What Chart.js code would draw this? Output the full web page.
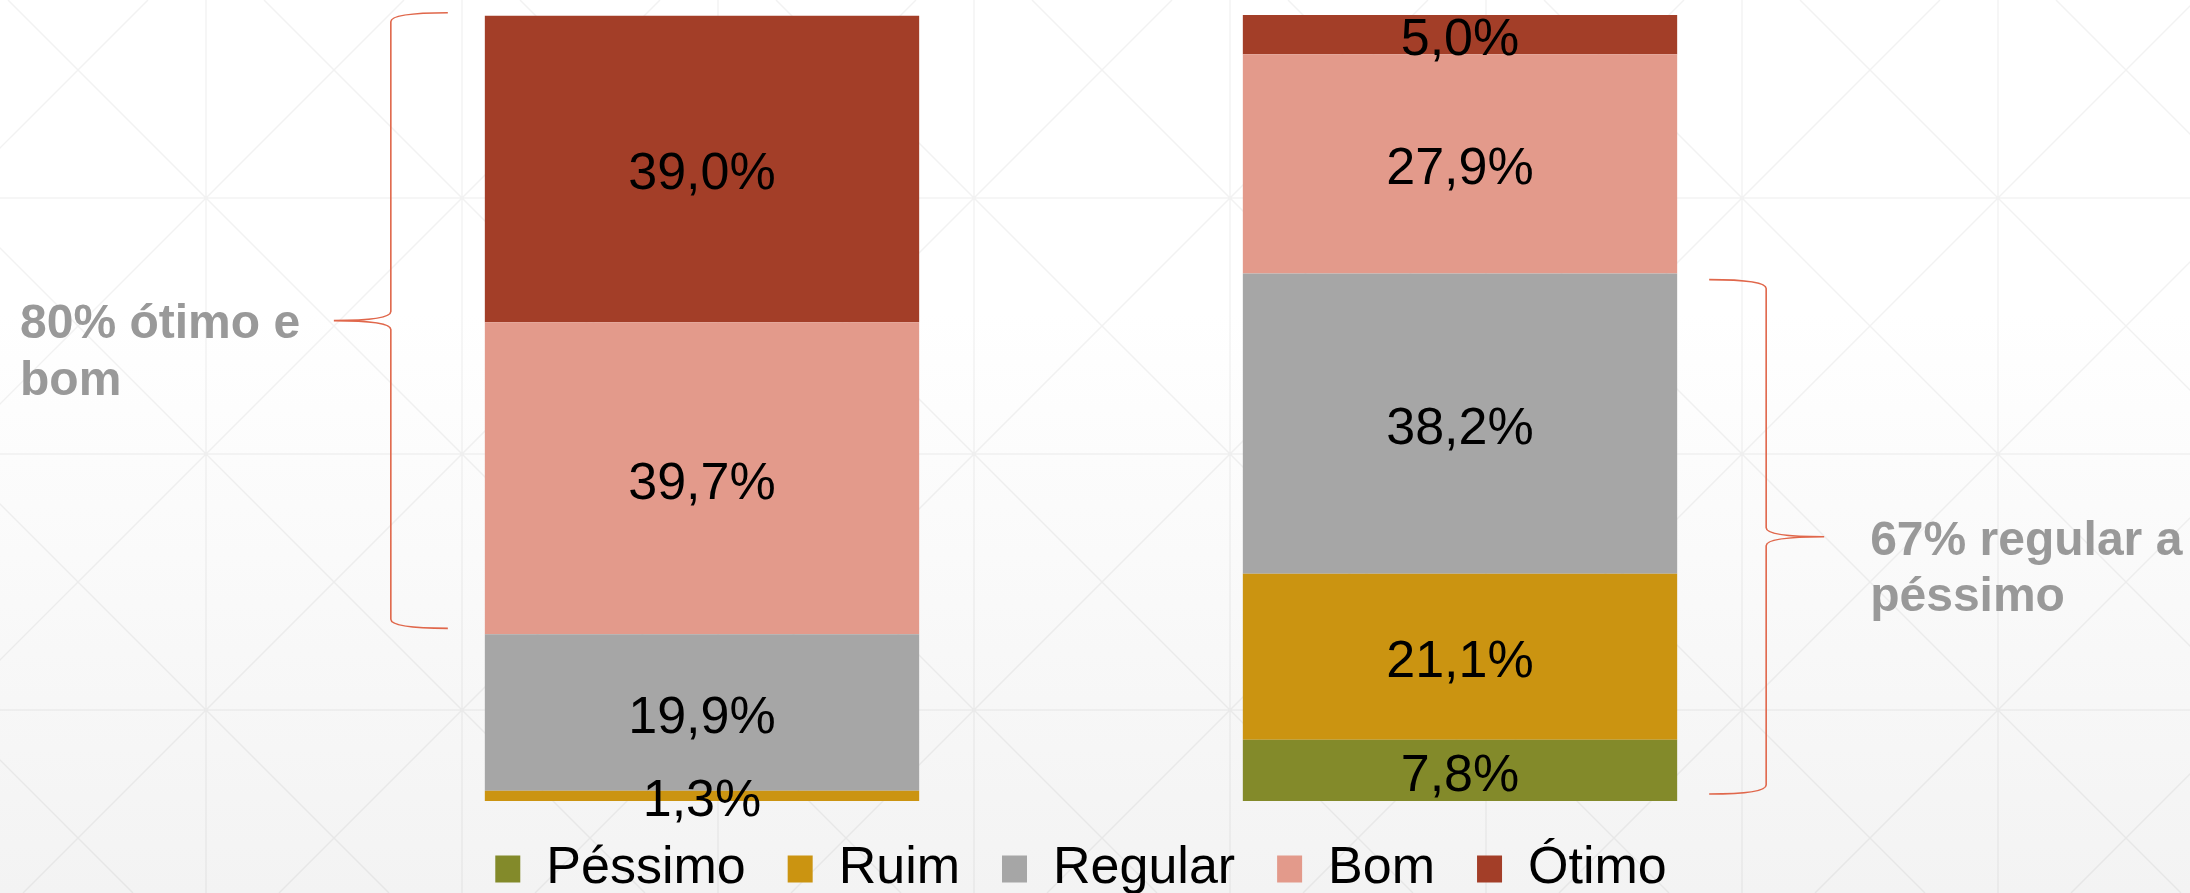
<!DOCTYPE html>
<html>
<head>
<meta charset="utf-8">
<script src="https://cdn.jsdelivr.net/npm/chart.js@4"></script>
<style>
    html, body { margin: 0; padding: 0; background: #fff; }
    #wrap { width: 2190px; height: 893px; position: relative; }
</style>
</head>
<body>
<div id="wrap"><canvas id="chart"></canvas></div>
<script>
// Chart data
const categories = ['Antes', 'Depois'];
const seriesNames = ['Péssimo', 'Ruim', 'Regular', 'Bom', 'Ótimo'];
const pessimo = [0, 7.8];
const ruim = [1.3, 21.1];
const regular = [19.9, 38.2];
const bom = [39.7, 27.9];
const otimo = [39.0, 5.0];
const seriesColors = ['#838A2A', '#CB9411', '#A6A6A6', '#E39A8B', '#A33E28'];

const noteLeft = ['80% ótimo e', 'bom'];
const noteRight = ['67% regular a', 'péssimo'];

const FONT = '"Liberation Sans", Arial, sans-serif';

function fmt(v) {
    return v.toFixed(1).replace('.', ',') + '%';
}

// Light background with the diamond lattice pattern
const backgroundPattern = {
    id: 'backgroundPattern',
    beforeDraw(chart) {
        const ctx = chart.ctx;
        const w = chart.width, h = chart.height;
        ctx.save();
        const grad = ctx.createLinearGradient(0, 0, 0, h);
        grad.addColorStop(0, '#ffffff');
        grad.addColorStop(0.35, '#ffffff');
        grad.addColorStop(1, '#f3f3f3');
        ctx.fillStyle = grad;
        ctx.fillRect(0, 0, w, h);

        ctx.strokeStyle = 'rgba(0,0,0,0.05)';
        ctx.lineWidth = 1.5;
        const step = 256, ox = 206, oy = 198;
        ctx.beginPath();
        for (let x = ox - step; x < w + step; x += step) {
            ctx.moveTo(x, 0); ctx.lineTo(x, h);
        }
        for (let y = oy - step; y < h + step; y += step) {
            ctx.moveTo(0, y); ctx.lineTo(w, y);
        }
        // diagonals: x - y = c and x + y = c
        for (let c = ox - oy - 6 * step; c < w + step; c += step) {
            ctx.moveTo(c, 0); ctx.lineTo(c + h, h);
        }
        for (let c = ox + oy - 6 * step; c < w + h + step; c += step) {
            ctx.moveTo(c, 0); ctx.lineTo(c - h, h);
        }
        ctx.stroke();
        ctx.restore();
    }
};

// Percent labels in the middle of every segment
const valueLabels = {
    id: 'valueLabels',
    afterDatasetsDraw(chart) {
        const ctx = chart.ctx;
        ctx.save();
        ctx.font = '52px ' + FONT;
        ctx.fillStyle = '#000';
        ctx.textAlign = 'center';
        ctx.textBaseline = 'middle';
        chart.data.datasets.forEach((ds, i) => {
            chart.getDatasetMeta(i).data.forEach((bar, j) => {
                const v = ds.data[j];
                if (!v) return;
                const p = bar.getProps(['x', 'y', 'base'], true);
                ctx.fillText(fmt(v), p.x, (p.y + p.base) / 2 + 6);
            });
        });
        ctx.restore();
    }
};

function drawBrace(ctx, endX, spineX, tipX, top, bottom) {
    const mid = (top + bottom) / 2;
    const r = 9;
    ctx.beginPath();
    ctx.moveTo(endX, top);
    ctx.quadraticCurveTo(spineX, top, spineX, top + r);
    ctx.lineTo(spineX, mid - r);
    ctx.quadraticCurveTo(spineX, mid, tipX, mid);
    ctx.quadraticCurveTo(spineX, mid, spineX, mid + r);
    ctx.lineTo(spineX, bottom - r);
    ctx.quadraticCurveTo(spineX, bottom, endX, bottom);
    ctx.stroke();
    return mid;
}

// Braces and grey notes next to the bars
const braces = {
    id: 'braces',
    afterDraw(chart) {
        const ctx = chart.ctx;
        const y = chart.scales.y;
        const barA = chart.getDatasetMeta(0).data[0];
        const barB = chart.getDatasetMeta(0).data[1];

        const topA = pessimo[0] + ruim[0] + regular[0] + bom[0] + otimo[0];
        const lowA = pessimo[0] + ruim[0] + regular[0];
        const topB = pessimo[1] + ruim[1] + regular[1];

        ctx.save();
        ctx.strokeStyle = '#E0674B';
        ctx.lineWidth = 1.6;

        const leftEdge = barA.x - barA.width / 2;
        const endL = leftEdge - 37;
        const midL = drawBrace(ctx, endL, endL - 57, endL - 114,
            y.getPixelForValue(topA) - 3, y.getPixelForValue(lowA) - 6);

        const rightEdge = barB.x + barB.width / 2;
        const endR = rightEdge + 32;
        const midR = drawBrace(ctx, endR, endR + 57, endR + 115,
            y.getPixelForValue(topB) + 6, y.getPixelForValue(0) - 7);

        ctx.fillStyle = '#999999';
        ctx.font = 'bold 48px ' + FONT;
        ctx.textAlign = 'left';
        ctx.textBaseline = 'alphabetic';
        noteLeft.forEach((t, i) => ctx.fillText(t, 20, midL + 17 + i * 57));
        noteRight.forEach((t, i) => ctx.fillText(t, endR + 161, midR + 18 + i * 56));
        ctx.restore();
    }
};

const seriesData = [pessimo, ruim, regular, bom, otimo];

new Chart(document.getElementById('chart'), {
    type: 'bar',
    data: {
        labels: categories,
        datasets: seriesNames.map((name, i) => ({
            label: name,
            data: seriesData[i],
            backgroundColor: seriesColors[i],
            borderWidth: 0,
            categoryPercentage: 1,
            barPercentage: 0.573
        }))
    },
    options: {
        responsive: true,
        maintainAspectRatio: false,
        animation: false,
        layout: {
            padding: { left: 323, right: 351, top: 15, bottom: 0 }
        },
        scales: {
            x: { stacked: true, display: false },
            y: { stacked: true, display: false, min: 0, max: 100 }
        },
        plugins: {
            tooltip: { enabled: false },
            legend: {
                position: 'bottom',
                maxHeight: 92,
                labels: {
                    color: '#000',
                    boxWidth: 25,
                    boxHeight: 27,
                    padding: 42,
                    font: { family: FONT, size: 52 }
                }
            }
        }
    },
    plugins: [backgroundPattern, valueLabels, braces]
});
</script>
</body>
</html>
